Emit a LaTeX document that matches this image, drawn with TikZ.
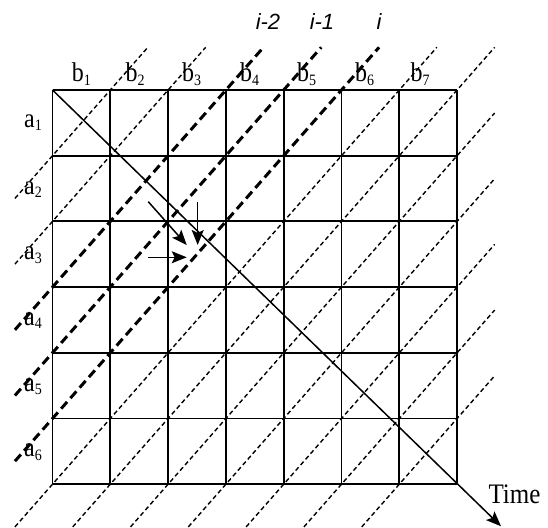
\documentclass[tikz,border=0pt]{standalone}
\usepackage{fontspec}
\setmainfont{Liberation Serif}
\newfontfamily\arialfont{Liberation Sans}
\usetikzlibrary{arrows.meta}
\newcommand\sublab[2]{\scalebox{1}[1.13]{#1\raisebox{-3pt}{\fontsize{14}{14}\selectfont #2}}}
\begin{document}
\begin{tikzpicture}[
  gridline/.style={line width=1.9pt},
  thindash/.style={line width=1.4pt, dash pattern=on 4.5pt off 3pt},
  thickdash/.style={line width=3pt, dash pattern=on 9pt off 5pt},
  arr/.style={line width=1.5pt, -{Stealth[length=15pt,width=12pt,inset=3pt]}},
  lab/.style={inner sep=0pt, anchor=base, font=\fontsize{24}{24}\selectfont},
  ilab/.style={inner sep=0pt, anchor=base, font=\arialfont\itshape\fontsize{22}{22}\selectfont},
]
\useasboundingbox (0,0) rectangle (548pt,-527pt);
\begin{scope}[shift={(52.5pt,-90pt)}, x=57.8pt, y=-65.7pt]
  \foreach \c in {0,...,7}{\foreach \r in {0,...,6}{\coordinate (g-\c-\r) at (\c,\r);}}
  % diagonal wavefront lines
  \foreach \s in {1,...,12}{
    \pgfmathtruncatemacro\ru{max(0,\s-7)}
    \pgfmathtruncatemacro\cu{\s-\ru}
    \pgfmathtruncatemacro\cl{max(0,\s-6)}
    \pgfmathtruncatemacro\rl{\s-\cl}
    \coordinate (d-\s-u) at (\cu+0.65,\ru-0.65);
    \coordinate (d-\s-l) at (\cl-0.65,\rl+0.65);
  }
  \foreach \s in {1,2,6,7,8,9,10,11,12}{\draw[thindash] (d-\s-l) -- (d-\s-u);}
  \foreach \s in {3,4,5}{\draw[thickdash] (d-\s-l) -- (d-\s-u);}
  % grid
  \foreach \r in {0,...,6}{\draw[gridline] (g-0-\r) -- (g-7-\r);}
  \foreach \c in {0,...,7}{\draw[gridline] (g-\c-0) -- (g-\c-6);}
  % time axis
  \coordinate (tend) at (7.76,6.64);
  \draw[arr] (g-0-0) -- (tend);
  % dependency arrows
  \coordinate (p1s) at (1.657,1.70);
  \coordinate (p1e) at (2.322,2.359);
  \coordinate (p2s) at (2.512,1.70);
  \coordinate (p2e) at (2.512,2.359);
  \coordinate (p3s) at (1.657,2.546);
  \coordinate (p3e) at (2.322,2.546);
  \draw[arr] (p1s) -- (p1e);
  \draw[arr] (p2s) -- (p2e);
  \draw[arr] (p3s) -- (p3e);
\end{scope}
% column labels
\node[lab] (b1) at (81.3pt,-81.7pt) {\sublab{b}{1}};
\node[lab] (b2) at (135pt,-81.7pt) {\sublab{b}{2}};
\node[lab] (b3) at (191.7pt,-81.7pt) {\sublab{b}{3}};
\node[lab] (b4) at (249.7pt,-81.7pt) {\sublab{b}{4}};
\node[lab] (b5) at (306.7pt,-81.7pt) {\sublab{b}{5}};
\node[lab] (b6) at (364.5pt,-81.7pt) {\sublab{b}{6}};
\node[lab] (b7) at (420pt,-81.7pt) {\sublab{b}{7}};
% row labels
\node[lab] (a1) at (33pt,-127.5pt) {\sublab{a}{1}};
\node[lab] (a2) at (33pt,-194pt) {\sublab{a}{2}};
\node[lab] (a3) at (33pt,-259.7pt) {\sublab{a}{3}};
\node[lab] (a4) at (33pt,-325.4pt) {\sublab{a}{4}};
\node[lab] (a5) at (33pt,-391pt) {\sublab{a}{5}};
\node[lab] (a6) at (33pt,-456.7pt) {\sublab{a}{6}};
% wavefront labels
\node[ilab] (i2) at (268pt,-30pt) {i-2};
\node[ilab] (i1) at (322pt,-30pt) {i-1};
\node[ilab] (i0) at (379pt,-30pt) {i};
% time label
\node[lab, font=\fontsize{25}{25}\selectfont] (time) at (514.5pt,-503pt) {\scalebox{1}[1.13]{Time}};
\end{tikzpicture}
\end{document}
